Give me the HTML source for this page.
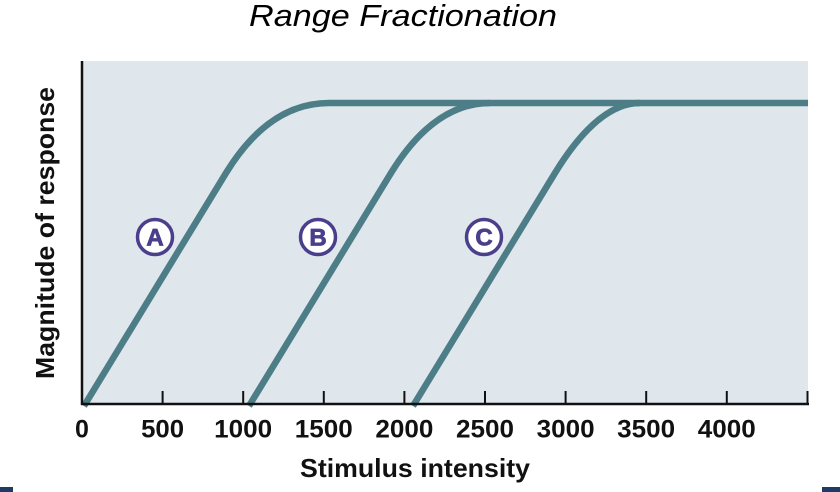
<!DOCTYPE html>
<html>
<head>
<meta charset="utf-8">
<style>
  html, body { margin: 0; padding: 0; background: #ffffff; }
  body { width: 840px; height: 492px; overflow: hidden; }
  svg { display: block; }
</style>
</head>
<body>
<svg width="840" height="492" viewBox="0 0 840 492" xmlns="http://www.w3.org/2000/svg">
  <!-- title -->
  <text x="403" y="26" text-anchor="middle" font-family="Liberation Sans, sans-serif" font-style="italic" font-size="31" fill="#000" textLength="308" lengthAdjust="spacingAndGlyphs">Range Fractionation</text>

  <!-- plot background -->
  <rect x="82" y="61" width="726" height="343" fill="#dfe7ed"/>

  <!-- curves -->
  <g fill="none" stroke="#4d7e87" stroke-width="6.5" stroke-linejoin="round">
    <path d="M84,406 L226,173 Q269,103 329,103 L808,103"/>
    <path d="M249,406 L391,173 Q434,103 490,103"/>
    <path d="M413,406 L555,173 Q598,103 640,103"/>
  </g>

  <!-- axes -->
  <line x1="82" y1="61" x2="82" y2="405" stroke="#111" stroke-width="2.5"/>
  <line x1="81" y1="404" x2="809" y2="404" stroke="#111" stroke-width="2.5"/>
  <g stroke="#111" stroke-width="2">
    <line x1="162.6" y1="404" x2="162.6" y2="391"/>
    <line x1="243.2" y1="404" x2="243.2" y2="391"/>
    <line x1="323.8" y1="404" x2="323.8" y2="391"/>
    <line x1="404.4" y1="404" x2="404.4" y2="391"/>
    <line x1="485" y1="404" x2="485" y2="391"/>
    <line x1="565.6" y1="404" x2="565.6" y2="391"/>
    <line x1="646.2" y1="404" x2="646.2" y2="391"/>
    <line x1="726.8" y1="404" x2="726.8" y2="391"/>
    <line x1="807.5" y1="404" x2="807.5" y2="391"/>
  </g>

  <!-- tick labels -->
  <g font-family="Liberation Sans, sans-serif" font-weight="bold" font-size="25" fill="#111" text-anchor="middle">
    <text x="82" y="437.5">0</text>
    <text x="162.6" y="437.5" textLength="43" lengthAdjust="spacingAndGlyphs">500</text>
    <text x="243.2" y="437.5" textLength="58" lengthAdjust="spacingAndGlyphs">1000</text>
    <text x="323.8" y="437.5" textLength="58" lengthAdjust="spacingAndGlyphs">1500</text>
    <text x="404.4" y="437.5" textLength="58" lengthAdjust="spacingAndGlyphs">2000</text>
    <text x="485" y="437.5" textLength="58" lengthAdjust="spacingAndGlyphs">2500</text>
    <text x="565.6" y="437.5" textLength="58" lengthAdjust="spacingAndGlyphs">3000</text>
    <text x="646.2" y="437.5" textLength="58" lengthAdjust="spacingAndGlyphs">3500</text>
    <text x="726.8" y="437.5" textLength="58" lengthAdjust="spacingAndGlyphs">4000</text>
  </g>

  <!-- axis titles -->
  <text x="415" y="477" text-anchor="middle" font-family="Liberation Sans, sans-serif" font-weight="bold" font-size="26" fill="#111" textLength="230" lengthAdjust="spacingAndGlyphs">Stimulus intensity</text>
  <text transform="translate(54,233) rotate(-90)" x="0" y="0" text-anchor="middle" font-family="Liberation Sans, sans-serif" font-weight="bold" font-size="26" fill="#111" textLength="292" lengthAdjust="spacingAndGlyphs">Magnitude of response</text>

  <!-- circle labels -->
  <g fill="#ffffff" stroke="#4a3f8b" stroke-width="3.5">
    <circle cx="155" cy="237" r="17.5"/>
    <circle cx="318" cy="237" r="17.5"/>
    <circle cx="484" cy="237" r="17.5"/>
  </g>
  <g font-family="Liberation Sans, sans-serif" font-weight="bold" font-size="24" fill="#4a3f8b" stroke="#4a3f8b" stroke-width="0.8" text-anchor="middle">
    <text x="155" y="245.5">A</text>
    <text x="318" y="245.5">B</text>
    <text x="484" y="245.5">C</text>
  </g>

  <!-- bottom corner bars -->
  <rect x="0" y="487" width="13" height="5" fill="#1f3a64"/>
  <rect x="822" y="487" width="18" height="5" fill="#1f3a64"/>
</svg>
</body>
</html>
